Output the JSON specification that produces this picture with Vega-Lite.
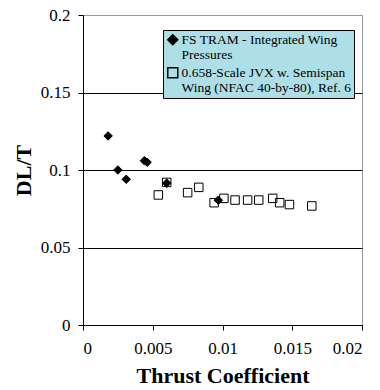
{
  "$schema": "https://vega.github.io/schema/vega-lite/v6.json",
  "autosize": {"type": "none"},
  "padding": {"left": 83, "top": 15, "right": 18, "bottom": 65},
  "width": 279,
  "height": 310,
  "background": "white",
  "config": {
    "view": {"stroke": "#999999", "strokeWidth": 1},
    "font": "Liberation Serif",
    "legend": {"labelFont": "Liberation Serif", "titleFont": "Liberation Serif"},
    "axis": {
      "labelFont": "Liberation Serif",
      "labelFontSize": 17,
      "labelColor": "black",
      "titleFont": "Liberation Serif",
      "titleFontWeight": "bold",
      "titleFontSize": 22,
      "titleColor": "black",
      "domainColor": "black",
      "tickColor": "black",
      "tickSize": 5
    }
  },
  "data": {
    "values": [
      {"series": "FS TRAM - Integrated Wing|Pressures", "ct": 0.0018, "dlt": 0.122},
      {"series": "FS TRAM - Integrated Wing|Pressures", "ct": 0.0025, "dlt": 0.100},
      {"series": "FS TRAM - Integrated Wing|Pressures", "ct": 0.0031, "dlt": 0.094},
      {"series": "FS TRAM - Integrated Wing|Pressures", "ct": 0.0044, "dlt": 0.106},
      {"series": "FS TRAM - Integrated Wing|Pressures", "ct": 0.0046, "dlt": 0.105},
      {"series": "FS TRAM - Integrated Wing|Pressures", "ct": 0.0060, "dlt": 0.0915},
      {"series": "FS TRAM - Integrated Wing|Pressures", "ct": 0.0097, "dlt": 0.0805},
      {"series": "0.658-Scale JVX w. Semispan|Wing (NFAC 40-by-80), Ref. 6", "ct": 0.0054, "dlt": 0.0839},
      {"series": "0.658-Scale JVX w. Semispan|Wing (NFAC 40-by-80), Ref. 6", "ct": 0.0060, "dlt": 0.0920},
      {"series": "0.658-Scale JVX w. Semispan|Wing (NFAC 40-by-80), Ref. 6", "ct": 0.0075, "dlt": 0.0854},
      {"series": "0.658-Scale JVX w. Semispan|Wing (NFAC 40-by-80), Ref. 6", "ct": 0.0083, "dlt": 0.0888},
      {"series": "0.658-Scale JVX w. Semispan|Wing (NFAC 40-by-80), Ref. 6", "ct": 0.0094, "dlt": 0.0789},
      {"series": "0.658-Scale JVX w. Semispan|Wing (NFAC 40-by-80), Ref. 6", "ct": 0.0101, "dlt": 0.0817},
      {"series": "0.658-Scale JVX w. Semispan|Wing (NFAC 40-by-80), Ref. 6", "ct": 0.0109, "dlt": 0.0806},
      {"series": "0.658-Scale JVX w. Semispan|Wing (NFAC 40-by-80), Ref. 6", "ct": 0.0118, "dlt": 0.0806},
      {"series": "0.658-Scale JVX w. Semispan|Wing (NFAC 40-by-80), Ref. 6", "ct": 0.0126, "dlt": 0.0806},
      {"series": "0.658-Scale JVX w. Semispan|Wing (NFAC 40-by-80), Ref. 6", "ct": 0.0136, "dlt": 0.0817},
      {"series": "0.658-Scale JVX w. Semispan|Wing (NFAC 40-by-80), Ref. 6", "ct": 0.0141, "dlt": 0.0789},
      {"series": "0.658-Scale JVX w. Semispan|Wing (NFAC 40-by-80), Ref. 6", "ct": 0.0148, "dlt": 0.0777},
      {"series": "0.658-Scale JVX w. Semispan|Wing (NFAC 40-by-80), Ref. 6", "ct": 0.0164, "dlt": 0.0768}
    ]
  },
  "mark": {"type": "point", "filled": false, "stroke": "black", "strokeWidth": 1, "size": 72, "opacity": 1},
  "encoding": {
    "x": {
      "field": "ct", "type": "quantitative",
      "scale": {"domain": [0, 0.02], "nice": false, "zero": true},
      "axis": {
        "title": "Thrust Coefficient",
        "values": [0, 0.005, 0.01, 0.015, 0.02],
        "format": "~g",
        "grid": false,
        "labelPadding": 10,
        "titlePadding": 9
      }
    },
    "y": {
      "field": "dlt", "type": "quantitative",
      "scale": {"domain": [0, 0.2], "nice": false},
      "axis": {
        "title": "DL/T",
        "values": [0, 0.05, 0.1, 0.15, 0.2],
        "format": "~g",
        "grid": true,
        "gridColor": {"condition": {"test": "datum.value >= 0.2", "value": "#999999"}, "value": "black"},
        "gridOpacity": 1,
        "labelPadding": 8,
        "titlePadding": 5
      }
    },
    "shape": {
      "field": "series", "type": "nominal",
      "scale": {
        "domain": ["FS TRAM - Integrated Wing|Pressures", "0.658-Scale JVX w. Semispan|Wing (NFAC 40-by-80), Ref. 6"],
        "range": ["diamond", "square"]
      },
      "legend": {
        "title": null,
        "orient": "none",
        "legendX": 80,
        "legendY": 15,
        "fillColor": "#aedfe6",
        "strokeColor": "black",
        "padding": 3,
        "labelFont": "Liberation Serif",
        "labelFontSize": 13.5,
        "labelColor": "black",
        "labelLimit": 400,
        "labelOffset": 2,
        "rowPadding": 2,
        "labelExpr": "split(datum.label, '|')"
      }
    },
    "fill": {
      "field": "series", "type": "nominal",
      "scale": {
        "domain": ["FS TRAM - Integrated Wing|Pressures", "0.658-Scale JVX w. Semispan|Wing (NFAC 40-by-80), Ref. 6"],
        "range": ["black", "transparent"]
      },
      "legend": {
        "title": null,
        "orient": "none",
        "legendX": 80,
        "legendY": 15,
        "fillColor": "#aedfe6",
        "strokeColor": "black",
        "padding": 3,
        "labelFont": "Liberation Serif",
        "labelFontSize": 13.5,
        "labelColor": "black",
        "labelLimit": 400,
        "labelOffset": 2,
        "rowPadding": 2,
        "labelExpr": "split(datum.label, '|')"
      }
    }
  }
}
